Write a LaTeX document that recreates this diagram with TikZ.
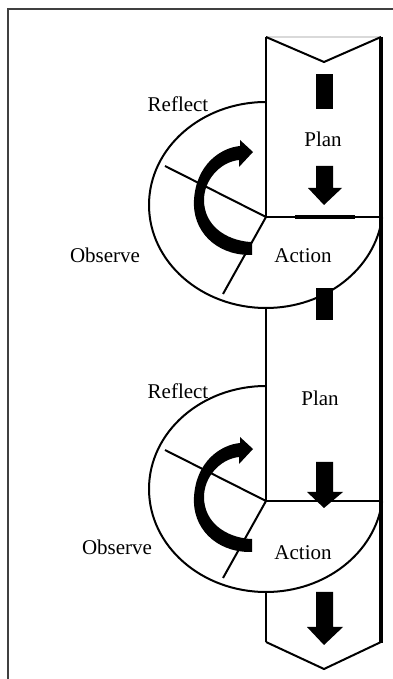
\documentclass[tikz,border=0pt]{standalone}
\usepackage{fontspec}
\setmainfont{Liberation Serif}

\begin{document}
\begin{tikzpicture}[x=0.5pt,y=0.5pt,
		lbl/.style={font=\fontsize{10.5}{12}\selectfont},
		edge/.style={line width=1pt},
		rim/.style={line width=1.6pt}]
		\useasboundingbox (0,0) rectangle (392,679);

		% frame (only top and left show)
		\draw[black!75, line width=1pt] (8,-10) -- (8,670) -- (400,670);

		% column: notched top, pointed bottom
		\draw[black!15, line width=0.6pt] (266,642) -- (381,642);
		\draw[edge] (266,642) -- (324,617) -- (381,642);
		\draw[edge] (266,37) -- (324,10) -- (381,37);
		\draw[rim] (381,642) -- (381,36);
		\draw[edge] (266,642) -- (266,462);
		\draw[edge] (266,371) -- (266,178);
		\draw[edge] (266,87) -- (266,37);

		% the two cycles: circle, dividers, turning arrow
		\foreach \dy/\ay in {0/0, -284/-297} {
			\draw[edge] (266,577+\dy) arc[start angle=90, end angle=353,
				x radius=58.5pt, y radius=51.5pt];
			\draw[edge] (266,462+\dy) -- (381,462+\dy);
			\draw[edge] (165,513+\dy) -- (266,462+\dy) -- (223,385+\dy);
			\fill[shift={(0,\ay)}] (252,424) -- (250,424)
				.. controls (215,424) and (192,449) .. (194,479)
				.. controls (196,514) and (220,531) .. (240,533)
				-- (240,539) -- (253,527) -- (239,512) -- (239,519)
				.. controls (220,517) and (204,499) .. (204,479)
				.. controls (204,454) and (225,439) .. (250,437)
				-- (252,437) -- cycle;
		}

		% heavy bit on the first divider
		\draw[line width=2pt] (295,462) -- (355,462);

		% bars and arrows down the column
		\fill (316,605) rectangle (333,570);
		\fill (316,513) -- (333,513) -- (333,491) -- (342,491) -- (324,474)
			-- (308,491) -- (316,491) -- cycle;
		\fill (316,391) rectangle (333,359);
		\fill (316,217) -- (333,217) -- (333,187) -- (343,187) -- (324,171)
			-- (307,187) -- (316,187) -- cycle;
		\fill (316,87) -- (333,87) -- (333,52) -- (343,52) -- (324,34)
			-- (307,52) -- (316,52) -- cycle;

		% labels
		\node[lbl] (reflectA) at (178,575) {Reflect};
		\node[lbl] (planA) at (323,540) {Plan};
		\node[lbl] (observeA) at (105,424) {Observe};
		\node[lbl] (actionA) at (303,423) {Action};
		\node[lbl] (reflectB) at (178,288) {Reflect};
		\node[lbl] (planB) at (320,281) {Plan};
		\node[lbl] (observeB) at (117,132) {Observe};
		\node[lbl] (actionB) at (303,126) {Action};
	\end{tikzpicture}
\end{document}
